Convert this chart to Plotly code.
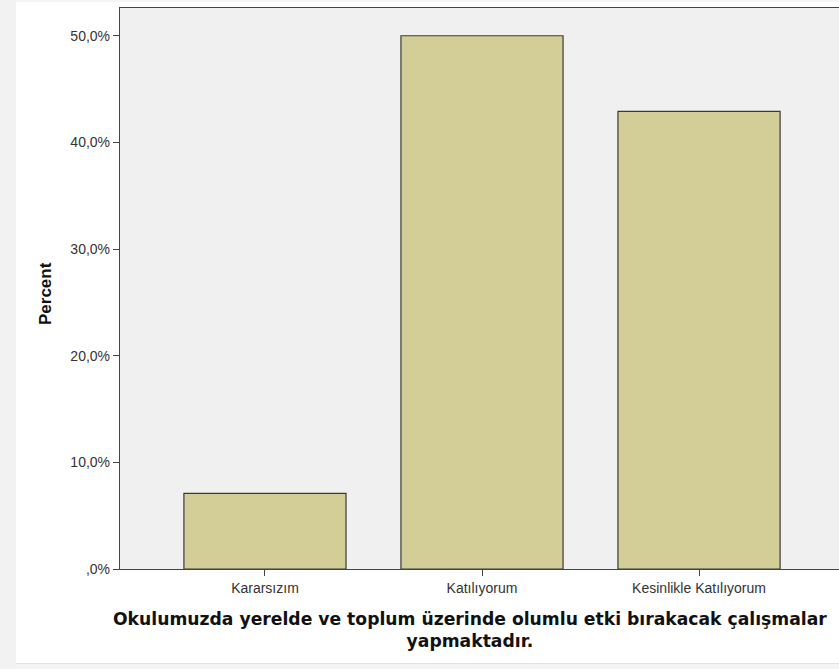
import plotly.graph_objects as go

categories = ["Kararsızım", "Katılıyorum", "Kesinlikle Katılıyorum"]
percent = [7.1, 50.0, 42.9]
y_tick_vals = [0, 10, 20, 30, 40, 50]
y_tick_text = [",0%", "10,0%", "20,0%", "30,0%", "40,0%", "50,0%"]
x_title = "Okulumuzda yerelde ve toplum üzerinde olumlu etki bırakacak çalışmalar<br>yapmaktadır."
y_title = "Percent"

W, H = 839, 669
ml, mr, mt, mb = 120, 0, 8, 100
pw, ph = W - ml - mr, H - mt - mb

def px2x(px):
    return (px - ml) / pw

def py2y(py):
    return (H - mb - py) / ph

fig = go.Figure()
fig.add_trace(go.Bar(
    x=[0, 1, 2], y=percent, width=0.747,
    marker=dict(color="#D3CE97", line=dict(color="#3a3a3a", width=1.2)),
    hoverinfo="skip",
))

fig.update_layout(
    width=W, height=H,
    margin=dict(l=ml, r=mr, t=mt, b=mb),
    paper_bgcolor="white",
    plot_bgcolor="#F0F0F0",
    showlegend=False,
    font=dict(family="Liberation Sans, Arial, sans-serif", color="#333333"),
    xaxis=dict(
        range=[-0.668, 2.645], tickvals=[0, 1, 2], ticktext=categories,
        showgrid=False, zeroline=False, showline=True, mirror=True,
        linecolor="#444444", linewidth=1.3,
        ticks="outside", ticklen=6, tickcolor="#444444", tickwidth=1.3,
        tickfont=dict(size=14, color="#333333"),
    ),
    yaxis=dict(
        range=[0, 52.6], tickvals=y_tick_vals, ticktext=y_tick_text,
        showgrid=False, zeroline=False, showline=True, mirror=True,
        linecolor="#444444", linewidth=1.3,
        ticks="outside", ticklen=6, tickcolor="#444444", tickwidth=1.3,
        tickfont=dict(size=14, color="#333333"),
    ),
    shapes=[
        dict(type="rect", xref="paper", yref="paper",
             x0=px2x(0), x1=px2x(16), y0=py2y(669), y1=py2y(0),
             fillcolor="#F2F2F2", line=dict(width=0), layer="below"),
        dict(type="rect", xref="paper", yref="paper",
             x0=px2x(16), x1=px2x(839), y0=py2y(669), y1=py2y(664),
             fillcolor="#F4F4F4", line=dict(width=0), layer="below"),
        dict(type="line", xref="paper", yref="paper",
             x0=px2x(16), x1=px2x(839), y0=py2y(663.5), y1=py2y(663.5),
             line=dict(color="#E2E2E2", width=1), layer="below"),
        dict(type="rect", xref="paper", yref="paper",
             x0=px2x(16), x1=px2x(839), y0=py2y(2), y1=py2y(0),
             fillcolor="#F4F4F4", line=dict(width=0), layer="below"),
    ],
    annotations=[
        dict(text="<b>" + x_title + "</b>", xref="paper", yref="paper",
             x=px2x(470), y=py2y(607), xanchor="center", yanchor="top",
             showarrow=False, align="center",
             font=dict(size=17.2, family="DejaVu Sans", color="#111111")),
        dict(text="<b>" + y_title + "</b>", xref="paper", yref="paper",
             x=px2x(45), y=py2y(294), xanchor="center", yanchor="middle",
             showarrow=False, textangle=-90,
             font=dict(size=17, color="#111111")),
    ],
)

fig.write_html("out.html", config={"displayModeBar": False},
               post_script="document.body.style.margin='0px';document.body.style.overflow='hidden';")
